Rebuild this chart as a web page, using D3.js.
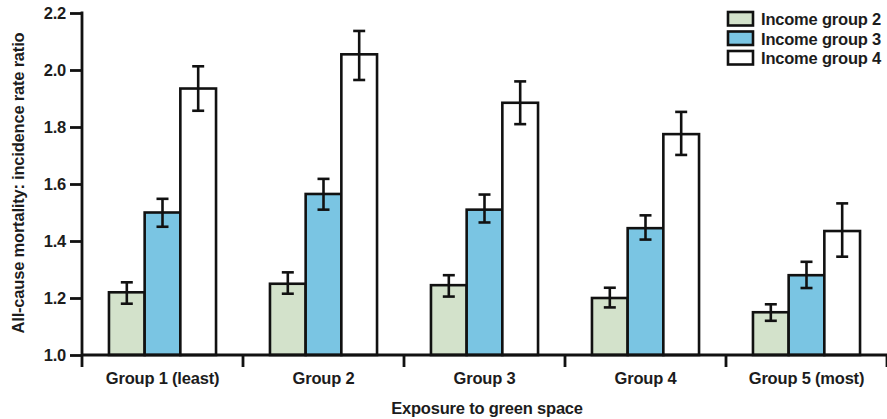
<!DOCTYPE html>
<html>
<head>
<meta charset="utf-8">
<script src="https://cdn.jsdelivr.net/npm/d3@7"></script>
<style>
  html, body { margin: 0; padding: 0; background: #fff; }
  svg text { font-family: "Liberation Sans", Arial, sans-serif; fill: #1c1c1c; font-weight: bold; }
</style>
</head>
<body>
<svg id="chart" width="887" height="419"></svg>
<script>
// Exposure groups along the x axis
const categories = ["Group 1 (least)", "Group 2", "Group 3", "Group 4", "Group 5 (most)"];
const seriesNames = ["Income group 2", "Income group 3", "Income group 4"];
const seriesColors = ["#d3e2cb", "#7ac5e3", "#ffffff"];

// Incidence rate ratios per income group (one value per exposure group)
const income2 = [1.22, 1.25, 1.245, 1.20, 1.15];
const income3 = [1.50, 1.565, 1.51, 1.445, 1.28];
const income4 = [1.935, 2.055, 1.885, 1.775, 1.435];

// 95% CI bounds
const income2Lo = [1.18, 1.215, 1.205, 1.167, 1.12];
const income2Hi = [1.255, 1.29, 1.28, 1.236, 1.178];
const income3Lo = [1.45, 1.51, 1.465, 1.405, 1.235];
const income3Hi = [1.548, 1.618, 1.563, 1.49, 1.327];
const income4Lo = [1.857, 1.965, 1.81, 1.702, 1.345];
const income4Hi = [2.013, 2.137, 1.96, 1.853, 1.532];

const yTicks = [1.0, 1.2, 1.4, 1.6, 1.8, 2.0, 2.2];

const values = [income2, income3, income4];
const lows = [income2Lo, income3Lo, income4Lo];
const highs = [income2Hi, income3Hi, income4Hi];

const FS = 16.5;
const LS = -0.2;

const svg = d3.select("#chart");

const y = d3.scaleLinear().domain([1.0, 2.2]).range([355, 13]);

const x0 = d3.scaleBand()
  .domain(categories)
  .range([82, 887])
  .paddingInner(0.335)
  .paddingOuter(0.1675);

const x1 = d3.scaleBand()
  .domain(seriesNames)
  .range([0, x0.bandwidth()]);

const step = x0.step();
const gapHalf = (step - x0.bandwidth()) / 2;

// Bars
const rows = [];
categories.forEach((c, ci) => {
  seriesNames.forEach((s, si) => {
    rows.push({ c, s, si, v: values[si][ci], lo: lows[si][ci], hi: highs[si][ci] });
  });
});

const g = svg.append("g");

g.selectAll("rect.bar")
  .data(rows)
  .enter().append("rect")
  .attr("class", "bar")
  .attr("x", d => x0(d.c) + x1(d.s))
  .attr("y", d => y(d.v))
  .attr("width", x1.bandwidth())
  .attr("height", d => y(1.0) - y(d.v))
  .attr("fill", d => seriesColors[d.si])
  .attr("stroke", "#111")
  .attr("stroke-width", 2.6);

// Error bars
const capW = 12;
const eb = g.selectAll("g.err").data(rows).enter().append("g")
  .attr("class", "err")
  .attr("stroke", "#111")
  .attr("stroke-width", 2.6);
eb.append("line")
  .attr("x1", d => x0(d.c) + x1(d.s) + x1.bandwidth() / 2)
  .attr("x2", d => x0(d.c) + x1(d.s) + x1.bandwidth() / 2)
  .attr("y1", d => y(d.lo))
  .attr("y2", d => y(d.hi));
eb.selectAll("line.cap")
  .data(d => [d.lo, d.hi].map(b => ({ d, b })))
  .enter().append("line")
  .attr("class", "cap")
  .attr("x1", o => x0(o.d.c) + x1(o.d.s) + x1.bandwidth() / 2 - capW / 2)
  .attr("x2", o => x0(o.d.c) + x1(o.d.s) + x1.bandwidth() / 2 + capW / 2)
  .attr("y1", o => y(o.b))
  .attr("y2", o => y(o.b));

// Y axis
const yAxis = d3.axisLeft(y)
  .tickValues(yTicks)
  .tickFormat(d3.format(".1f"))
  .tickSize(12)
  .tickSizeOuter(0)
  .tickPadding(4);
const yg = svg.append("g").attr("transform", "translate(82,0)").call(yAxis);
yg.select(".domain").remove();
yg.selectAll(".tick line").attr("stroke", "#111").attr("stroke-width", 2.8);
yg.selectAll(".tick text")
  .attr("font-size", FS)
  .attr("letter-spacing", LS)
  .attr("font-family", null)
  .attr("fill", "#1c1c1c");
yg.append("line")
  .attr("x1", 0).attr("x2", 0)
  .attr("y1", y(2.2) - 1.4).attr("y2", 367)
  .attr("stroke", "#111").attr("stroke-width", 2.8);

// X axis: baseline plus ticks at group boundaries
const xg = svg.append("g");
xg.append("line")
  .attr("x1", 82).attr("x2", 887)
  .attr("y1", y(1.0)).attr("y2", y(1.0))
  .attr("stroke", "#111").attr("stroke-width", 2.8);
xg.selectAll("line.xt")
  .data(categories)
  .enter().append("line")
  .attr("class", "xt")
  .attr("x1", c => x0(c) + x0.bandwidth() + gapHalf)
  .attr("x2", c => x0(c) + x0.bandwidth() + gapHalf)
  .attr("y1", y(1.0))
  .attr("y2", y(1.0) + 12)
  .attr("stroke", "#111").attr("stroke-width", 2.8);
xg.selectAll("text.xl")
  .data(categories)
  .enter().append("text")
  .attr("class", "xl")
  .attr("x", c => x0(c) + x0.bandwidth() / 2)
  .attr("y", 384)
  .attr("text-anchor", "middle")
  .attr("font-size", FS)
  .attr("letter-spacing", LS)
  .text(c => c);

// Axis titles
svg.append("text")
  .attr("x", 487)
  .attr("y", 414)
  .attr("text-anchor", "middle")
  .attr("font-size", FS)
  .attr("letter-spacing", LS)
  .text("Exposure to green space");

svg.append("text")
  .attr("transform", "translate(24,183) rotate(-90)")
  .attr("text-anchor", "middle")
  .attr("font-size", FS)
  .attr("letter-spacing", LS)
  .text("All-cause mortality: incidence rate ratio");

// Legend
const legend = svg.append("g").attr("transform", "translate(728,12)");
const li = legend.selectAll("g").data(seriesNames).enter().append("g")
  .attr("transform", (d, i) => `translate(0,${i * 19.5})`);
li.append("rect")
  .attr("x", 0).attr("y", 0)
  .attr("width", 25).attr("height", 13.5)
  .attr("fill", (d, i) => seriesColors[i])
  .attr("stroke", "#111").attr("stroke-width", 2.6);
li.append("text")
  .attr("x", 33).attr("y", 13)
  .attr("font-size", FS)
  .attr("letter-spacing", LS)
  .text(d => d);
</script>
</body>
</html>
